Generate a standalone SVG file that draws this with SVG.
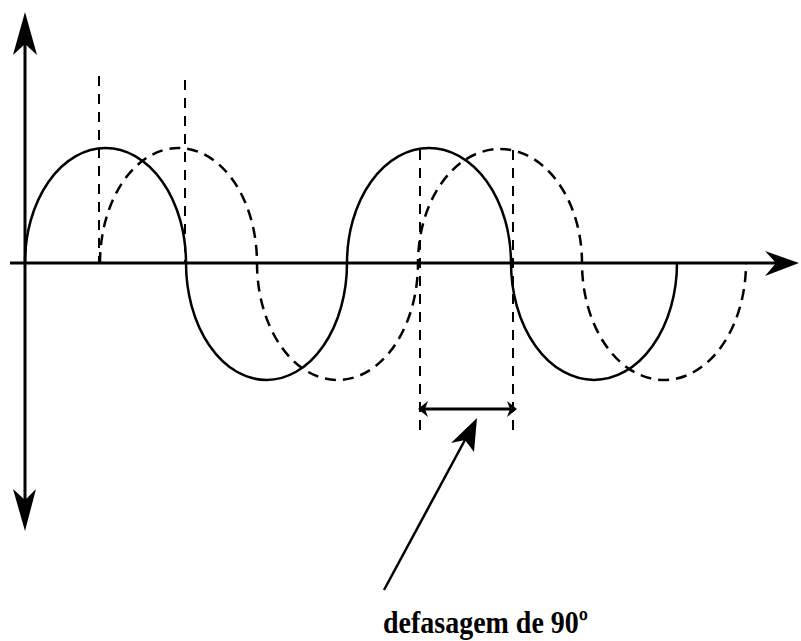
<svg xmlns="http://www.w3.org/2000/svg" width="801" height="641" viewBox="0 0 801 641">
<style>
.axis{stroke:#000;stroke-width:3;fill:none}
.solid{stroke:#000;stroke-width:2.5;fill:none}
.dash{stroke:#000;stroke-width:2.5;fill:none;stroke-dasharray:11 7}
.guide{stroke:#000;stroke-width:2;fill:none;stroke-dasharray:10 8}
.head{fill:#000;stroke:none}
.label{font-family:"Liberation Serif","Times New Roman",serif;font-weight:bold;font-size:32px;fill:#000}
</style>
<rect width="801" height="641" fill="#fff"/>
<g id="axes">
<line class="axis" x1="25" y1="20" x2="25" y2="522"/>
<line class="axis" x1="10" y1="263" x2="790" y2="263"/>
<path class="head" d="M25,12 L37,55 L25,44 L13,55 Z"/>
<path class="head" d="M25,531 L13,489 L25,500 L36,489 Z"/>
<path class="head" d="M799,263 L765,251 L776,263 L765,276 Z"/>
</g>
<g id="solid-wave">
<path class="solid" d="M25,263 A80.5,115 0 0 1 186,263 A80.5,117 0 0 0 347,263 A82,115 0 0 1 511,263 A83,117 0 0 0 677,263"/>
</g>
<g id="dashed-wave">
<path class="dash" d="M100,263 A78.5,115 0 0 1 257,263 A80.5,117 0 0 0 418,263 A82,114 0 0 1 582,263 A82,117 0 0 0 746,263"/>
</g>
<g id="connectors">
<line class="guide" x1="99" y1="76" x2="99" y2="262"/>
<line class="guide" x1="185" y1="80" x2="185" y2="262"/>
<line class="guide" x1="420" y1="150" x2="420" y2="438"/>
<line class="guide" x1="513" y1="150" x2="513" y2="438"/>
<line stroke="#000" stroke-width="3" x1="424" y1="409" x2="511" y2="409"/>
<path class="head" d="M418,409 L428,401 L425,409 L428,417 Z"/>
<path class="head" d="M517,409 L507,401 L510,409 L507,417 Z"/>
<line stroke="#000" stroke-width="2.5" x1="384" y1="590" x2="466" y2="438"/>
<path class="head" d="M477,418 L474,452 L465,440 L451,443 Z"/>
</g>
<g id="label">
<text class="label" x="383" y="633" textLength="205" lengthAdjust="spacingAndGlyphs">defasagem de 90º</text>
</g>
</svg>
